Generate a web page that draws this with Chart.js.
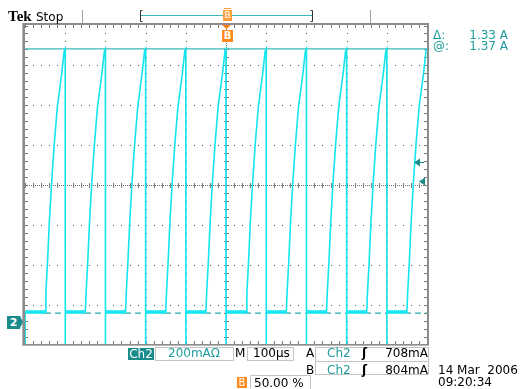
<!DOCTYPE html>
<html lang="en">
<head>
    <meta charset="UTF-8">
    <title>Tek Stop - Ch2</title>
    <style>
        body {
            margin: 0;
            background: #fff;
            overflow: hidden;
            font-family: "DejaVu Sans", sans-serif;
        }
        #wrap {
            position: relative;
            width: 525px;
            height: 389px;
        }
        canvas {
            position: absolute;
            left: 0;
            top: 0;
        }
        .t {
            position: absolute;
            font-size: 12px;
            line-height: 12px;
            white-space: nowrap;
            color: #000;
        }
        .teal { color: #1f9c9c; }
        .box {
            position: absolute;
            border: 1px solid #c4c4c4;
            box-sizing: border-box;
        }
    </style>
</head>
<body>
<div id="wrap">
    <canvas id="scope" width="525" height="389"></canvas>

    <div class="t" style="left:8px;top:9px;font-family:'Liberation Serif',serif;font-weight:bold;font-size:15px;line-height:15px;">Tek</div>
    <div class="t" style="left:36px;top:11px;">Stop</div>

    <div class="t teal" style="left:433px;top:29px;">&Delta;:</div>
    <div class="t teal" style="left:460px;top:29px;width:48px;text-align:right;">1.33 A</div>
    <div class="t teal" style="left:433px;top:40px;">@:</div>
    <div class="t teal" style="left:460px;top:40px;width:48px;text-align:right;">1.37 A</div>

    <div class="t" style="left:7px;top:316px;width:13px;height:13px;line-height:13px;background:#1b8c8c;color:#fff;font-weight:bold;font-size:11px;text-align:center;">2</div>

    <div class="t" style="left:128px;top:348px;width:26px;height:12px;background:#1b8c8c;color:#fff;text-align:center;">Ch2</div>
    <div class="box" style="left:155px;top:347px;width:79px;height:14px;"></div>
    <div class="t teal" style="left:168px;top:347px;">200mA&Omega;</div>
    <div class="t" style="left:235px;top:347px;">M</div>
    <div class="box" style="left:247px;top:347px;width:47px;height:14px;"></div>
    <div class="t" style="left:253px;top:347px;">100&micro;s</div>

    <div class="t" style="left:306px;top:347px;">A</div>
    <div class="box" style="left:315px;top:347px;width:114px;height:15px;"></div>
    <div class="t teal" style="left:327px;top:347px;">Ch2</div>
    <div class="t" style="left:362px;top:347px;font-weight:bold;">&#643;</div>
    <div class="t" style="left:380px;top:347px;width:48px;text-align:right;">708mA</div>

    <div class="t" style="left:306px;top:364px;">B</div>
    <div class="box" style="left:315px;top:361px;width:114px;height:14px;"></div>
    <div class="t teal" style="left:327px;top:364px;">Ch2</div>
    <div class="t" style="left:362px;top:364px;font-weight:bold;">&#643;</div>
    <div class="t" style="left:380px;top:364px;width:48px;text-align:right;">804mA</div>

    <div class="t" style="left:237px;top:377px;width:10px;height:11px;line-height:11px;background:#ff8a1c;color:#fff;font-size:10px;text-align:center;">B</div>
    <div class="box" style="left:250px;top:375px;width:61px;height:15px;"></div>
    <div class="t" style="left:254px;top:377px;">50.00 %</div>

    <div class="t" style="left:438px;top:364px;">14 Mar&nbsp; 2006</div>
    <div class="t" style="left:438px;top:376px;">09:20:34</div>

    <div class="t" style="left:222px;top:30px;width:11px;height:12px;line-height:12px;background:#ff8a1c;color:#fff;font-size:10px;font-weight:bold;text-align:center;">B</div>
    <div class="t" style="left:223px;top:10px;width:9px;height:11px;line-height:11px;background:#ffa040;color:#fff;font-size:9px;text-align:center;">B</div>
</div>

<script src="https://cdn.jsdelivr.net/npm/chart.js"></script>
<script>
// screen: 10 div x 100 us, 8 div x 200 mA (centre ~0.69 A)
const timeRange = [0, 1000];
const ampRange = [-0.11, 1.49];
const timeStep = 100;
const ampStep = 0.2;

// falling edges of the Ch2 current (us)
const dropTimes = [0, 100, 200, 300, 400, 500, 600, 700, 800, 900];
// one ramp after each falling edge: time since edge (us) and level (A)
const rampTimes = [50, 52, 56, 60.5, 66.5, 73, 80.5, 91.5, 97.5, 100];
const rampLevels = [0.05, 0.15, 0.30, 0.50, 0.71, 0.90, 1.08, 1.25, 1.36, 1.37];
const baseLevel = 0.05;
const undershoot = -0.25;

const cursorLevels = [1.37, 0.045];     // solid, dashed
const triggerLevels = [0.804, 0.708];   // B, A

const trace = [];
const floor = [];
dropTimes.forEach(t0 => {
    trace.push({x: t0, y: undershoot}, {x: t0 + 0.4, y: baseLevel});
    rampTimes.forEach((dt, i) => trace.push({x: t0 + dt, y: rampLevels[i]}));
    floor.push({x: t0 + 1, y: baseLevel}, {x: t0 + rampTimes[0], y: baseLevel}, {x: t0 + 50.5, y: null});
});

const graticule = {
    id: 'graticule',
    beforeDatasetsDraw(chart) {
        const {ctx, chartArea: a, scales: {x, y}} = chart;
        const cx = Math.round(x.getPixelForValue(500));
        const cy = Math.round(y.getPixelForValue(0.69));
        const mx = (x.getPixelForValue(timeStep) - x.getPixelForValue(0)) / 5;
        const my = (y.getPixelForValue(0) - y.getPixelForValue(ampStep)) / 5;
        ctx.save();
        ctx.fillStyle = '#5a5a5a';
        // dotted division lines
        for (let t = timeRange[0] + timeStep; t < timeRange[1]; t += timeStep) {
            const px = Math.round(x.getPixelForValue(t));
            if (px === cx) continue;
            for (let py = cy; py < a.bottom; py += my) ctx.fillRect(px, Math.round(py), 1, 1);
            for (let py = cy - my; py > a.top; py -= my) ctx.fillRect(px, Math.round(py), 1, 1);
        }
        for (let k = -3; k <= 3; k++) {
            if (k === 0) continue;
            const py = Math.round(cy - k * 5 * my);
            for (let px = cx; px < a.right; px += mx) ctx.fillRect(Math.round(px), py, 1, 1);
            for (let px = cx - mx; px > a.left; px -= mx) ctx.fillRect(Math.round(px), py, 1, 1);
        }
        // centre cross with ticks
        ctx.fillStyle = '#6a6a6a';
        for (let px = a.left; px < a.right; px += 2) ctx.fillRect(px, cy, 1, 1);
        for (let py = a.top; py < a.bottom; py += 2) ctx.fillRect(cx, py, 1, 1);
        ctx.fillStyle = '#7a7a7a';
        for (let px = cx; px < a.right; px += mx) ctx.fillRect(Math.round(px), cy - 2, 1, 5);
        for (let px = cx; px > a.left; px -= mx) ctx.fillRect(Math.round(px), cy - 2, 1, 5);
        for (let py = cy; py < a.bottom; py += my) ctx.fillRect(cx - 2, Math.round(py), 5, 1);
        for (let py = cy; py > a.top; py -= my) ctx.fillRect(cx - 2, Math.round(py), 5, 1);
        // edge ticks
        for (let px = cx; px < a.right; px += mx) {
            ctx.fillRect(Math.round(px), a.top, 1, 3);
            ctx.fillRect(Math.round(px), a.bottom - 3, 1, 3);
        }
        for (let px = cx; px > a.left; px -= mx) {
            ctx.fillRect(Math.round(px), a.top, 1, 3);
            ctx.fillRect(Math.round(px), a.bottom - 3, 1, 3);
        }
        for (let py = cy; py < a.bottom; py += my) {
            ctx.fillRect(a.left, Math.round(py), 3, 1);
            ctx.fillRect(a.right - 3, Math.round(py), 3, 1);
        }
        for (let py = cy; py > a.top; py -= my) {
            ctx.fillRect(a.left, Math.round(py), 3, 1);
            ctx.fillRect(a.right - 3, Math.round(py), 3, 1);
        }
        ctx.restore();
    },
    afterDraw(chart) {
        const {ctx, chartArea: a, scales: {x, y}} = chart;
        const cx = Math.round(x.getPixelForValue(500));
        ctx.save();
        // frame
        ctx.strokeStyle = '#8c8c8c';
        ctx.lineWidth = 2;
        ctx.strokeRect(a.left - 1, a.top - 1, a.right - a.left + 2, a.bottom - a.top + 2);
        ctx.fillStyle = '#b4b4b4';
        ctx.fillRect(a.left - 3, a.top - 2, 1, a.bottom - a.top + 4);
        ctx.fillRect(a.left - 2, a.bottom + 1, a.right - a.left + 4, 1);

        // top record bar
        ctx.fillStyle = '#a0a0a0';
        ctx.fillRect(82, 10, 1, 13);
        ctx.fillRect(370, 10, 1, 13);
        ctx.strokeStyle = '#333';
        ctx.lineWidth = 1;
        ctx.beginPath();
        ctx.moveTo(142.5, 10.5); ctx.lineTo(140.5, 10.5); ctx.lineTo(140.5, 21.5); ctx.lineTo(142.5, 21.5);
        ctx.moveTo(310.5, 10.5); ctx.lineTo(312.5, 10.5); ctx.lineTo(312.5, 21.5); ctx.lineTo(310.5, 21.5);
        ctx.stroke();
        ctx.fillStyle = '#3db6b6';
        ctx.fillRect(141, 15, 171, 1);
        ctx.fillStyle = '#ff9a3a';
        ctx.fillRect(224, 8, 7, 1);

        // trigger position marker
        ctx.fillStyle = '#ff7f11';
        ctx.beginPath();
        ctx.moveTo(cx - 4, a.top); ctx.lineTo(cx + 5, a.top); ctx.lineTo(cx + 0.5, a.top + 4);
        ctx.closePath();
        ctx.fill();

        // ground marker tip
        const gy = Math.round(y.getPixelForValue(0));
        ctx.fillStyle = '#1b8c8c';
        ctx.beginPath();
        ctx.moveTo(20, gy - 6); ctx.lineTo(23, gy); ctx.lineTo(20, gy + 6);
        ctx.closePath();
        ctx.fill();

        // trigger level arrows
        triggerLevels.forEach((v, i) => {
            const py = Math.round(y.getPixelForValue(v)) + 0.5;
            const tip = i === 0 ? 414 : 419;
            ctx.beginPath();
            ctx.moveTo(tip, py); ctx.lineTo(tip + 6, py - 4); ctx.lineTo(tip + 6, py + 4);
            ctx.closePath();
            ctx.fill();
            if (i === 0) ctx.fillRect(tip + 6, py - 0.5, 4, 1);
        });
        ctx.restore();
    }
};

new Chart(document.getElementById('scope'), {
    type: 'line',
    data: {
        datasets: [
            {
                label: 'Ch2',
                data: trace,
                borderColor: '#14e4ee',
                borderWidth: 1.6,
                pointRadius: 0,
                tension: 0
            },
            {
                label: 'Ch2 floor',
                data: floor,
                borderColor: '#45ecf3',
                borderWidth: 4,
                pointRadius: 0,
                spanGaps: false
            },
            {
                label: 'cursor 1',
                data: [{x: timeRange[0], y: cursorLevels[0]}, {x: timeRange[1], y: cursorLevels[0]}],
                borderColor: '#3fbaba',
                borderWidth: 1.2,
                pointRadius: 0
            },
            {
                label: 'cursor 2',
                data: [{x: timeRange[0], y: cursorLevels[1]}, {x: timeRange[1], y: cursorLevels[1]}],
                borderColor: '#2aa8a8',
                borderWidth: 1.2,
                borderDash: [6, 4],
                pointRadius: 0
            }
        ]
    },
    options: {
        responsive: false,
        animation: false,
        events: [],
        layout: {padding: {left: 25, right: 98, top: 25, bottom: 45}},
        plugins: {legend: {display: false}, tooltip: {enabled: false}},
        scales: {
            x: {type: 'linear', min: timeRange[0], max: timeRange[1], display: false},
            y: {type: 'linear', min: ampRange[0], max: ampRange[1], display: false}
        }
    },
    plugins: [graticule]
});
</script>
</body>
</html>
